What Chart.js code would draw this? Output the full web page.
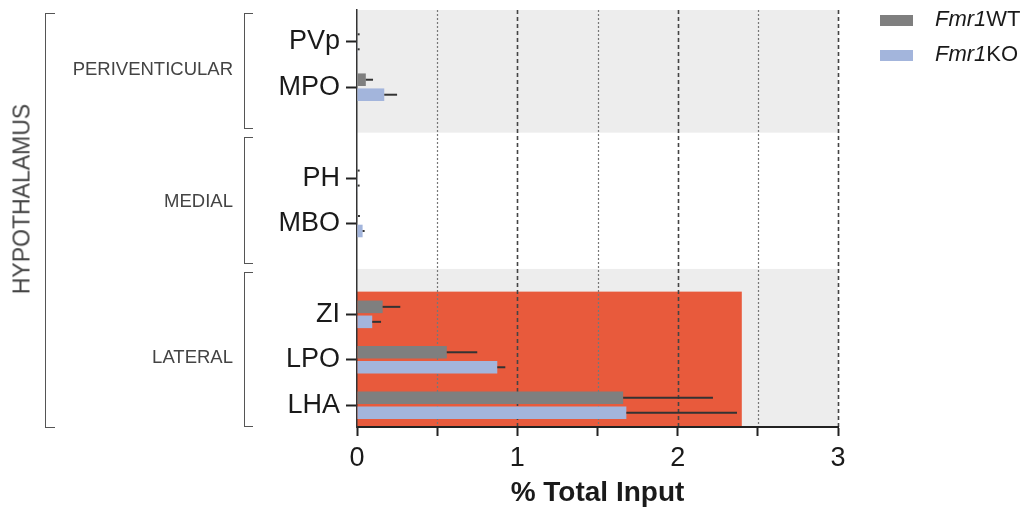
<!DOCTYPE html>
<html>
<head>
<meta charset="utf-8">
<script src="https://cdn.jsdelivr.net/npm/chart.js@4.4.1/dist/chart.umd.min.js"></script>
<style>
body{margin:0;background:#fff;font-family:'Liberation Sans',Arial,sans-serif}
#wrap{position:relative;width:1030px;height:512px}
canvas{position:absolute;left:0;top:0}
.lbl{position:absolute;color:#444;white-space:nowrap;line-height:1}
.brk{position:absolute;border:1.5px solid #555;border-right:none;box-sizing:border-box}
.leg{position:absolute;left:880px;font-size:22px;color:#1a1a1a;line-height:1;white-space:nowrap}
.sw{display:inline-block;width:33px;height:11px;vertical-align:middle;margin-right:22px}
</style>
</head>
<body>
<div id="wrap">
  <canvas id="c" width="1030" height="512"></canvas>

  <div class="brk" style="left:45px;top:13px;width:10px;height:415px"></div>
  <div class="lbl" style="left:22px;top:199px;font-size:23px;transform:translate(-50%,-50%) rotate(-90deg)">HYPOTHALAMUS</div>

  <div class="brk" style="left:244px;top:13px;width:9px;height:116px"></div>
  <div class="brk" style="left:244px;top:137px;width:9px;height:127px"></div>
  <div class="brk" style="left:244px;top:272px;width:9px;height:155px"></div>
  <div class="lbl" style="right:797px;top:60px;font-size:18.5px">PERIVENTICULAR</div>
  <div class="lbl" style="right:797px;top:192px;font-size:18.5px">MEDIAL</div>
  <div class="lbl" style="right:797px;top:348px;font-size:18.5px">LATERAL</div>

  <div class="leg" style="top:8px"><span class="sw" style="background:#7f7f7f"></span><i>Fmr1</i>WT</div>
  <div class="leg" style="top:43px"><span class="sw" style="background:#a3b5dc"></span><i>Fmr1</i>KO</div>
</div>
<script>
// rows of the y axis; empty strings are the spacer rows between nucleus groups
const CATS = ['PVp','MPO','','PH','MBO','','ZI','LPO','LHA'];
const ROWS = [0,1,3,4,6,7,8];

const WT     = [0.004,0.055,0.004,0.006,0.16,0.56,1.66];
const WT_ERR = [0.004,0.045,0.004,0.006,0.11,0.19,0.56];
const KO     = [0.004,0.17,0.004,0.035,0.095,0.875,1.68];
const KO_ERR = [0.004,0.08,0.004,0.01,0.055,0.05,0.69];

const X_TICKS = [0,0.5,1,1.5,2,2.5,3];

// shaded groups (first row, last row) and the highlighted lateral block
const SHADED = [[0,1],[6,8]];
const HIGHLIGHT = {from:6, to:8, max:2.4};

const FAMILY = "'Liberation Sans', Arial, sans-serif";

const bands = {
  id:'bands',
  beforeDraw(chart){
    const {ctx, chartArea:a, scales:{x,y}} = chart;
    ctx.save();
    ctx.fillStyle = '#ededed';
    SHADED.forEach(([f,t])=>{
      const top = Math.max(a.top, y.getPixelForValue(f-1));
      const bot = Math.min(a.bottom, y.getPixelForValue(t+1));
      ctx.fillRect(a.left, top, a.right-a.left, bot-top);
    });
    // red highlight box
    const ht = y.getPixelForValue(HIGHLIGHT.from-0.5);
    const hb = Math.min(a.bottom, y.getPixelForValue(HIGHLIGHT.to+0.5));
    ctx.fillStyle = '#e85a3c';
    ctx.fillRect(x.getPixelForValue(0), ht, x.getPixelForValue(HIGHLIGHT.max)-x.getPixelForValue(0), hb-ht);
    // vertical reference lines
    X_TICKS.filter(v=>v>0).forEach(v=>{
      const px = Math.round(x.getPixelForValue(v))+0.5;
      const whole = Number.isInteger(v);
      ctx.strokeStyle = whole ? '#444' : '#777';
      ctx.lineWidth = whole ? 1.6 : 1.2;
      ctx.setLineDash(whole ? [4,3] : [2,2]);
      ctx.beginPath();ctx.moveTo(px,a.top);ctx.lineTo(px,a.bottom);ctx.stroke();
    });
    ctx.restore();
  }
};

const errorBars = {
  id:'errorBars',
  afterDatasetsDraw(chart){
    const {ctx, scales:{x}} = chart;
    ctx.save();
    ctx.strokeStyle = '#333';
    ctx.lineWidth = 2;
    chart.data.datasets.forEach((ds,d)=>{
      chart.getDatasetMeta(d).data.forEach((bar,i)=>{
        const v = ds.data[i].x;
        const x2 = x.getPixelForValue(v+ds.err[i]);
        ctx.beginPath();ctx.moveTo(bar.x,bar.y);ctx.lineTo(Math.max(x2,bar.x+2),bar.y);ctx.stroke();
      });
    });
    ctx.restore();
  }
};

new Chart(document.getElementById('c'),{
  type:'bar',
  data:{
    datasets:[
      {label:'Fmr1WT', data:ROWS.map((r,i)=>({x:WT[i],y:r})), err:WT_ERR, backgroundColor:'#7f7f7f'},
      {label:'Fmr1KO', data:ROWS.map((r,i)=>({x:KO[i],y:r})), err:KO_ERR, backgroundColor:'#a3b5dc'}
    ]
  },
  options:{
    indexAxis:'y',
    responsive:false,
    animation:false,
    categoryPercentage:0.66,
    barPercentage:0.84,
    layout:{padding:{top:10,right:192,left:0,bottom:0}},
    plugins:{legend:{display:false},tooltip:{enabled:false}},
    scales:{
      x:{
        type:'linear',min:0,max:3,
        afterFit:s=>{s.height=85;},
        afterBuildTicks:s=>{s.ticks=X_TICKS.map(v=>({value:v}));},
        ticks:{callback:v=>Number.isInteger(v)?String(v):'',font:{size:27,family:FAMILY},color:'#1a1a1a',padding:6,maxRotation:0,autoSkip:false},
        grid:{drawOnChartArea:false,drawTicks:true,tickLength:9,tickWidth:2,tickColor:'#222'},
        border:{color:'#222',width:2},
        title:{display:true,text:'% Total Input',font:{size:28,weight:'bold',family:FAMILY},color:'#1a1a1a',padding:{top:2,bottom:2}}
      },
      y:{
        type:'linear',reverse:true,min:-0.7,max:8.48,
        offset:false,
        afterFit:s=>{s.width=357;s.paddingTop=0;s.paddingBottom=0;},
        afterBuildTicks:s=>{s.ticks=ROWS.map(v=>({value:v}));},
        ticks:{callback:v=>CATS[v],font:{size:27,family:FAMILY},color:'#1a1a1a',padding:6,autoSkip:false},
        grid:{offset:false,drawOnChartArea:false,drawTicks:true,tickLength:11,tickWidth:2,tickColor:'#222'},
        border:{color:'#333',width:1.5}
      }
    }
  },
  plugins:[bands,errorBars]
});
</script>
</body>
</html>
